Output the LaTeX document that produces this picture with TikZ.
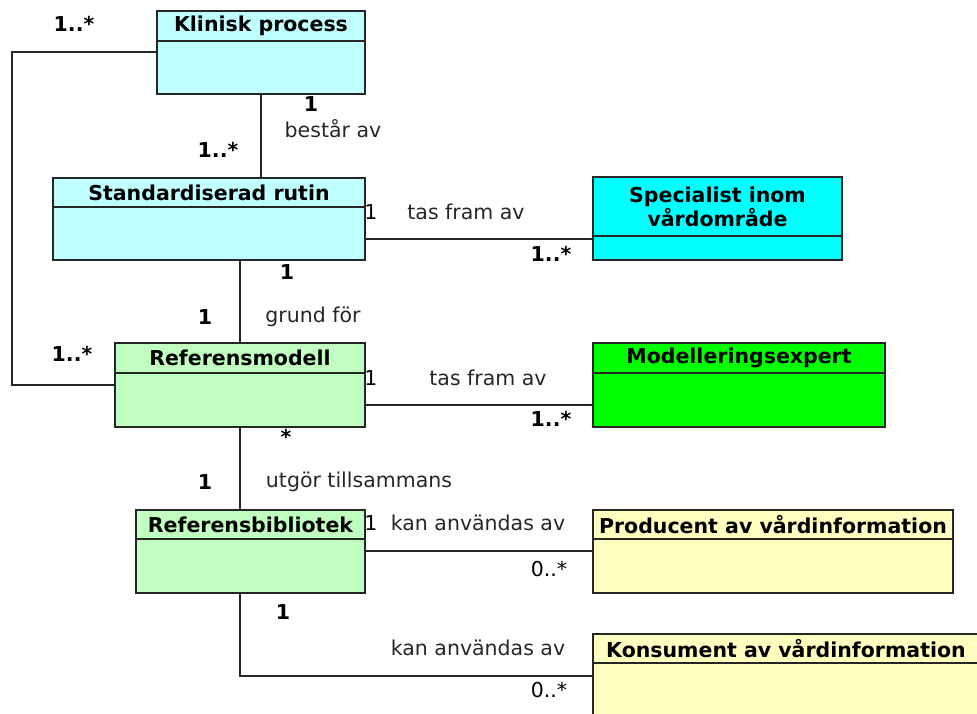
\documentclass[tikz,border=0pt]{standalone}
\usepackage{fontspec}
\setmainfont{DejaVu Sans}
\usetikzlibrary{calc, positioning}

\definecolor{cyanpale}{RGB}{192,255,255}
\definecolor{cyanfull}{RGB}{0,255,255}
\definecolor{greenpale}{RGB}{192,255,192}
\definecolor{greenfull}{RGB}{0,255,0}
\definecolor{yellowpale}{RGB}{255,255,192}

\tikzset{
  klasshead/.style={draw=black!85, line width=1.6pt, anchor=north west, inner sep=0pt, outer sep=0pt,
    align=center, font=\fontsize{20.5}{24}\selectfont\bfseries},
  klassbody/.style={draw=black!85, line width=1.6pt, anchor=north, inner sep=0pt, outer sep=0pt},
  assoc/.style={draw=black!85, line width=1.5pt},
  mult/.style={font=\fontsize{20.5}{24}\selectfont\bfseries, inner sep=0pt},
  multn/.style={font=\fontsize{20.5}{24}\selectfont, inner sep=0pt},
  role/.style={font=\fontsize{20.5}{24}\selectfont, text=black!85, inner sep=0pt}
}

\begin{document}
\begin{tikzpicture}[x=1pt, y=-1pt]
\useasboundingbox (0,0) rectangle (977,713);

% Classes
\node[klasshead, fill=cyanpale, minimum width=208, minimum height=30] (klinH) at (157,11) {Klinisk process};
\node[klassbody, fill=cyanpale, minimum width=208, minimum height=53] (klinB) at (klinH.south) {};

\node[klasshead, fill=cyanpale, minimum width=312, minimum height=29] (stdH) at (53,178) {Standardiserad rutin};
\node[klassbody, fill=cyanpale, minimum width=312, minimum height=53] (stdB) at (stdH.south) {};

\node[klasshead, fill=cyanfull, minimum width=249, minimum height=59] (specH) at (593,177) {Specialist inom\\vårdområde};
\node[klassbody, fill=cyanfull, minimum width=249, minimum height=24] (specB) at (specH.south) {};

\node[klasshead, fill=greenpale, minimum width=250, minimum height=30] (refmH) at (115,343) {Referensmodell};
\node[klassbody, fill=greenpale, minimum width=250, minimum height=54] (refmB) at (refmH.south) {};

\node[klasshead, fill=greenfull, minimum width=292, minimum height=30] (modH) at (593,343) {Modelleringsexpert};
\node[klassbody, fill=greenfull, minimum width=292, minimum height=54] (modB) at (modH.south) {};

\node[klasshead, fill=greenpale, minimum width=229, minimum height=29] (bibH) at (136,510) {Referensbibliotek};
\node[klassbody, fill=greenpale, minimum width=229, minimum height=54] (bibB) at (bibH.south) {};

\node[klasshead, fill=yellowpale, minimum width=360, minimum height=29] (prodH) at (593,510) {Producent av vårdinformation};
\node[klassbody, fill=yellowpale, minimum width=360, minimum height=54] (prodB) at (prodH.south) {};

\node[klasshead, fill=yellowpale, minimum width=386, minimum height=29] (konsH) at (593,634) {Konsument av vårdinformation};
\node[klassbody, fill=yellowpale, minimum width=386, minimum height=60] (konsB) at (konsH.south) {};

% Associations
\draw[assoc] ($(klinB.north west)+(0,11)$) -- ++(-145,0) |- ($(refmB.north west)+(0,12)$);
\draw[assoc] (klinB.south) -- (klinB.south |- stdH.north);
\draw[assoc] ($(stdB.north east)+(0,32)$) coordinate (stdR) -- (stdR -| specB.west);
\draw[assoc] (stdB.south -| refmH.north) -- (refmH.north);
\draw[assoc] ($(refmB.north east)+(0,32)$) coordinate (refmR) -- (refmR -| modB.west);
\draw[assoc] (refmB.south) -- (refmB.south |- bibH.north);
\draw[assoc] ($(bibB.north east)+(0,12)$) coordinate (bibR) -- (bibR -| prodB.west);
\draw[assoc] (bibB.south -| refmB.south) |- ($(konsB.north west)+(0,13)$);

% Multiplicities and roles
\node[mult] (m1) at (74,24) {1..*};
\node[mult] (m2) at (311,104) {1};
\node[role] (r1) at (333,129) {består av};
\node[mult] (m3) at (218,150) {1..*};

\node[multn] (m4) at (371,212) {1};
\node[role] (r2) at (466,212) {tas fram av};
\node[mult] (m5) at (551,254) {1..*};

\node[mult] (m6) at (287,272) {1};
\node[mult] (m7) at (205,317) {1};
\node[role] (r3) at (313,317) {grund för};
\node[mult] (m8) at (72,354) {1..*};

\node[multn] (m9) at (371,378) {1};
\node[role] (r4) at (488,378) {tas fram av};
\node[mult] (m10) at (551,419) {1..*};

\node[mult] (m11) at (286,437) {*};
\node[mult] (m12) at (205,482) {1};
\node[role] (r5) at (359,482) {utgör tillsammans};

\node[multn] (m13) at (371,523) {1};
\node[role] (r6) at (478,523) {kan användas av};
\node[multn] (m14) at (549,569) {0..*};

\node[mult] (m15) at (283,612) {1};
\node[role] (r7) at (478,648) {kan användas av};
\node[multn] (m16) at (549,690) {0..*};
\end{tikzpicture}
\end{document}
